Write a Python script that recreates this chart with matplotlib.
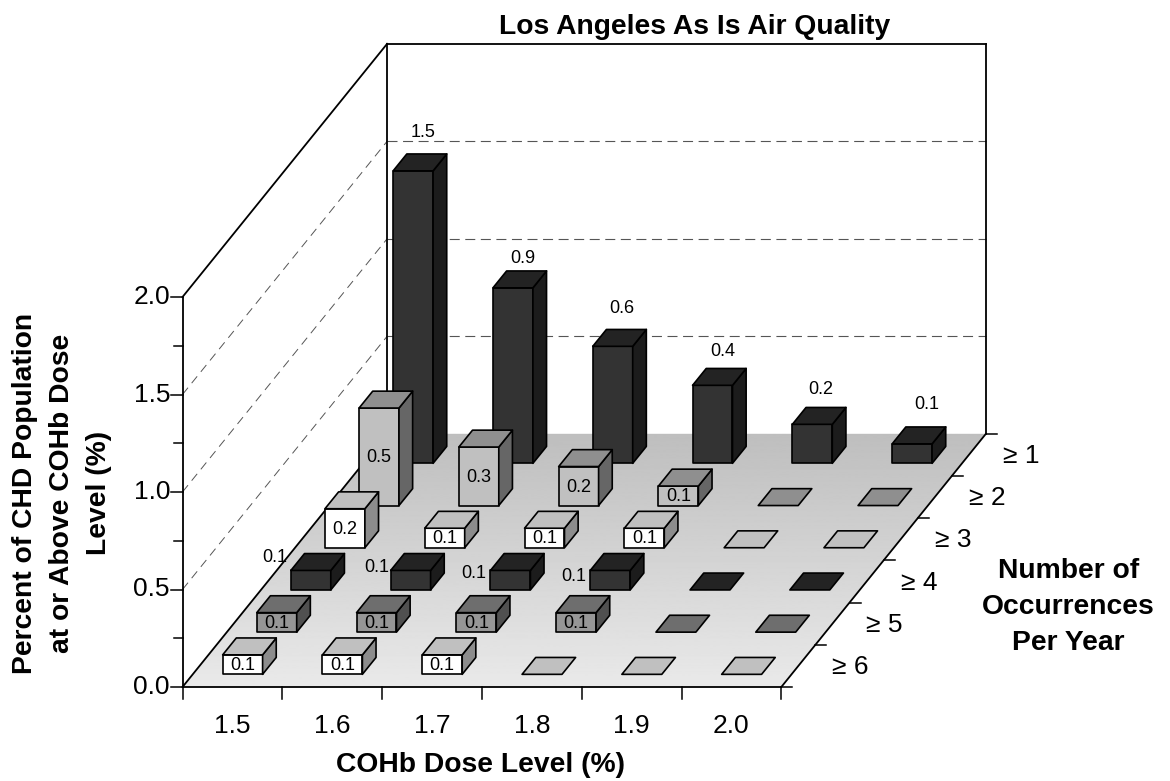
import numpy as np
import matplotlib
matplotlib.use('Agg')
import matplotlib.pyplot as plt
from matplotlib.patches import Polygon

plt.rcParams['font.family'] = ['Liberation Sans', 'DejaVu Sans']

dose_levels = ['1.5', '1.6', '1.7', '1.8', '1.9', '2.0']
occurrences = ['≥ 6', '≥ 5', '≥ 4', '≥ 3', '≥ 2', '≥ 1']
y_ticks = [0.0, 0.5, 1.0, 1.5, 2.0]

ge6 = [0.1, 0.1, 0.1, 0.0, 0.0, 0.0]
ge5 = [0.1, 0.1, 0.1, 0.1, 0.0, 0.0]
ge4 = [0.1, 0.1, 0.1, 0.1, 0.0, 0.0]
ge3 = [0.2, 0.1, 0.1, 0.1, 0.0, 0.0]
ge2 = [0.5, 0.3, 0.2, 0.1, 0.0, 0.0]
ge1 = [1.5, 0.9, 0.6, 0.4, 0.2, 0.1]
rows = [ge6, ge5, ge4, ge3, ge2, ge1]

# front, top, side colours for each row, front row first
white = ('#ffffff', '#c0c0c0', '#8c8c8c')
mid = ('#969696', '#6e6e6e', '#505050')
dark = ('#333333', '#232323', '#1c1c1c')
light = ('#c0c0c0', '#8f8f8f', '#666666')
row_colors = [white, mid, dark, white, light, dark]

# oblique projection, in pixels of the 1170x781 picture
X0, Y0 = 182.5, 687
CW = 99.8
DX, DY = 34.1, -42.2
ZS = 195


def proj(col, row, z=0):
    return X0 + col * CW + row * DX, Y0 + row * DY - z * ZS


fig = plt.figure(figsize=(11.7, 7.81), dpi=100)
ax = fig.add_axes([0, 0, 1, 1])
ax.set_axis_off()

# floor with its gradient
floor = Polygon([proj(0, 0), proj(6, 0), proj(6, 6), proj(0, 6)], closed=True,
                fc='none', ec='none', transform=ax.transData)
ax.add_patch(floor)
grad = np.linspace(0.745, 0.915, 256).reshape(-1, 1)
im = ax.imshow(grad, cmap='gray', vmin=0, vmax=1, aspect='auto', zorder=1,
               extent=(X0, proj(6, 6)[0], Y0, proj(0, 6)[1]), origin='upper')
im.set_clip_path(floor)
ax.set_xlim(0, 1170)
ax.set_ylim(781, 0)

# grid lines on both walls
for v in y_ticks[1:-1]:
    ax.plot(*zip(proj(0, 0, v), proj(0, 6, v)), color='#555555', lw=0.7,
            dashes=(9, 6), zorder=2)
    ax.plot(*zip(proj(0, 6, v), proj(6, 6, v)), color='#555555', lw=0.8,
            dashes=(9, 5), zorder=2)

# frame
frame = [
    [proj(0, 0, 2), proj(0, 0)],
    [proj(0, 0, 2), proj(0, 6, 2)],
    [proj(0, 6, 2), proj(6, 6, 2)],
    [proj(0, 6, 2), proj(0, 6)],
    [proj(6, 6, 2), proj(6, 6)],
    [proj(0, 0), proj(6, 0)],
    [proj(0, 0), proj(0, 6)],
    [proj(6, 0), proj(6, 6)],
]
for seg in frame:
    ax.plot(*zip(*seg), color='black', lw=1.3, zorder=3, solid_capstyle='projecting')

# y ticks
for i in range(9):
    x, y = proj(0, 0, i * 0.25)
    ax.plot([x - (12 if i % 2 == 0 else 9), x], [y, y], color='black', lw=1.1, zorder=3)
for v in y_ticks:
    x, y = proj(0, 0, v)
    ax.text(170, y, f'{v:.1f}', ha='right', va='center', fontsize=19)

# x ticks and labels
for c in range(7):
    x, y = proj(c, 0)
    ax.plot([x, x], [y, y + 12], color='black', lw=1.1, zorder=3)
for c, lab in enumerate(dose_levels):
    x, y = proj(c + 0.5, 0)
    ax.text(x, 726, lab, ha='center', va='center', fontsize=19)

# depth ticks and labels
for r in range(7):
    x, y = proj(6, r)
    ax.plot([x, x + 11], [y, y], color='black', lw=1.1, zorder=3)
for r, lab in enumerate(occurrences):
    x, y = proj(6, r + 0.5)
    ax.text(x + 34, y + 1, lab, ha='left', va='center', fontsize=19)

# bars, back row first
B0, B1 = 0.3, 0.7
z = 4
for r in range(5, -1, -1):
    front, top, side = row_colors[r]
    for c in range(6):
        v = rows[r][c]
        kw = dict(closed=True, ec='black', lw=1.2, joinstyle='round')
        top_pts = [proj(c + B0, r + B0, v), proj(c + B1, r + B0, v),
                   proj(c + B1, r + B1, v), proj(c + B0, r + B1, v)]
        if v > 0:
            ax.add_patch(Polygon([proj(c + B0, r + B0), proj(c + B1, r + B0),
                                  proj(c + B1, r + B0, v), proj(c + B0, r + B0, v)],
                                 fc=front, zorder=z, **kw))
            ax.add_patch(Polygon([proj(c + B1, r + B0), proj(c + B1, r + B1),
                                  proj(c + B1, r + B1, v), proj(c + B1, r + B0, v)],
                                 fc=side, zorder=z, **kw))
        ax.add_patch(Polygon(top_pts, fc=top, zorder=z, **kw))

        if v > 0:
            lab = f'{v:.1f}'
            if r == 5:
                # above the bar
                gap = [21, 12, 21, 17, 18, 22][c]
                dx = [4, 4, 5, 3, 5, -1][c]
                x, y = proj(c + 0.5, r + B1, v)
                ax.text(x - dx, y - gap, lab, ha='center', va='center', fontsize=13, zorder=z)
            elif r == 2:
                # left of the bar
                dx = [4, 1, 4, 4][c]
                dy = [-13, -3, 3, 6][c]
                x, y = proj(c + B0, r + B0, v)
                ax.text(x - dx, y + dy, lab, ha='right', va='center', fontsize=13, zorder=z)
            else:
                x0, y0 = proj(c + 0.5, r + B0)
                ax.text(x0, y0 - v * ZS / 2 + 1, lab, ha='center', va='center', fontsize=13, zorder=z)
        z += 1

ax.text(695, 26.5, 'Los Angeles As Is Air Quality', ha='center', va='center',
        fontsize=20.3, fontweight='bold')
ax.text(481, 764.5, 'COHb Dose Level (%)', ha='center', va='center',
        fontsize=20.3, fontweight='bold')
ax.text(62, 493, 'Percent of CHD Population\nat or Above COHb Dose\nLevel (%)',
        ha='center', va='center', rotation=90, fontsize=20.3, fontweight='bold',
        linespacing=1.55)
ax.text(1068.5, 607, 'Number of\nOccurrences\nPer Year', ha='center', va='center',
        fontsize=20.3, fontweight='bold', linespacing=1.48)

fig.savefig('out.png', dpi=100)
